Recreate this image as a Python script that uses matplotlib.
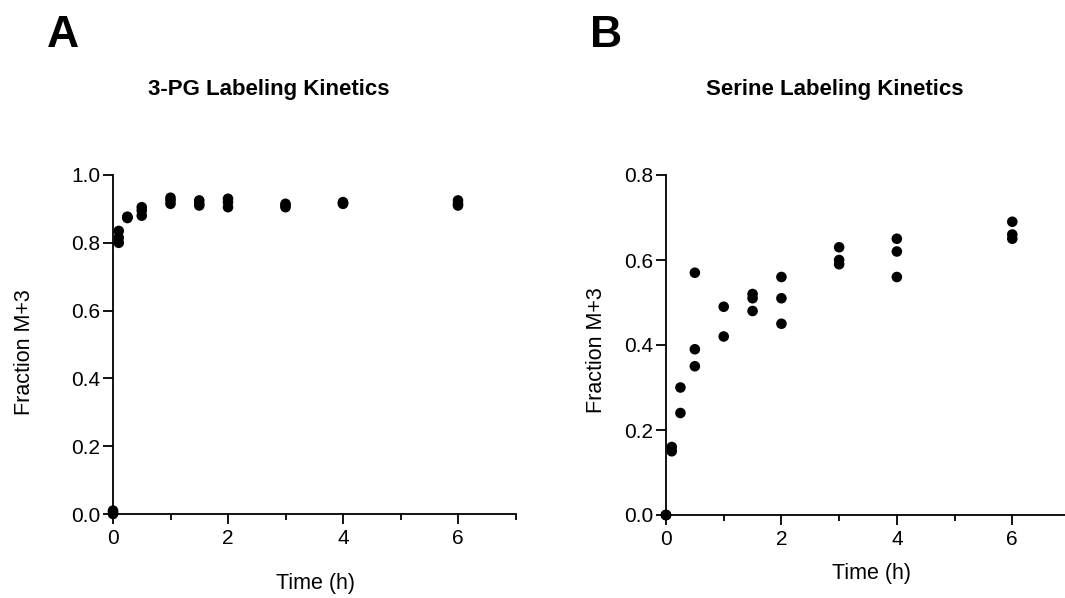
import matplotlib
matplotlib.use("Agg")
import matplotlib.pyplot as plt
from matplotlib.ticker import MultipleLocator

plt.rcParams['font.family'] = ['Liberation Sans', 'DejaVu Sans']

# Panel A: 3-PG
time_a = [0, 0, 0, 0.1, 0.1, 0.1, 0.25, 0.25, 0.25, 0.5, 0.5, 0.5,
          1, 1, 1, 1.5, 1.5, 1.5, 2, 2, 2, 3, 3, 3, 4, 4, 4, 6, 6, 6]
frac_a = [0.0, 0.01, 0.005, 0.835, 0.815, 0.80, 0.875, 0.877, 0.873,
          0.905, 0.895, 0.88, 0.933, 0.925, 0.915, 0.925, 0.915, 0.91,
          0.93, 0.92, 0.905, 0.915, 0.91, 0.905, 0.92, 0.917, 0.915,
          0.925, 0.915, 0.91]

# Panel B: Serine
time_b = [0, 0, 0, 0.1, 0.1, 0.25, 0.25, 0.5, 0.5, 0.5, 1, 1,
          1.5, 1.5, 1.5, 2, 2, 2, 3, 3, 3, 4, 4, 4, 6, 6, 6]
frac_b = [0.0, 0.0, 0.0, 0.16, 0.15, 0.30, 0.24, 0.57, 0.39, 0.35, 0.49, 0.42,
          0.52, 0.51, 0.48, 0.56, 0.51, 0.45, 0.63, 0.60, 0.59, 0.65, 0.62, 0.56,
          0.69, 0.66, 0.65]

titles = ["3-PG Labeling Kinetics", "Serine Labeling Kinetics"]
letters = ["A", "B"]
yticks_a = [0.0, 0.2, 0.4, 0.6, 0.8, 1.0]
yticks_b = [0.0, 0.2, 0.4, 0.6, 0.8]
xticks = [0, 2, 4, 6]

W, H = 1065, 598
fig = plt.figure(figsize=(W / 100, H / 100), dpi=100)

def px(x, y):
    return x / W, 1 - y / H

axA = fig.add_axes([113 / W, 84 / H, 402.5 / W, 339 / H])
axB = fig.add_axes([666 / W, 83 / H, 404 / W, 340 / H])

for ax, t, f, yt in [(axA, time_a, frac_a, yticks_a), (axB, time_b, frac_b, yticks_b)]:
    ax.scatter(t, f, s=58, color='black', edgecolors='none', clip_on=False, zorder=3)
    ax.set_xlim(0, 7)
    ax.set_ylim(0, yt[-1])
    ax.set_xticks(xticks)
    ax.set_yticks(yt)
    ax.set_yticklabels([f"{v:.1f}" for v in yt])
    ax.xaxis.set_minor_locator(MultipleLocator(1))
    for s in ['top', 'right']:
        ax.spines[s].set_visible(False)
    for s in ['left', 'bottom']:
        ax.spines[s].set_linewidth(1.3)
    ax.tick_params(which='major', length=7, width=1.3, labelsize=15, pad=2)
    ax.tick_params(axis='x', which='major', pad=4)
    ax.tick_params(which='minor', length=4, width=1.3)

# Titles, labels
fig.text(*px(269, 89), titles[0], ha='center', va='center', fontsize=16, fontweight='bold')
fig.text(*px(835, 89), titles[1], ha='center', va='center', fontsize=16, fontweight='bold')
fig.text(*px(316, 584), "Time (h)", ha='center', va='center', fontsize=15.5)
fig.text(*px(872, 573), "Time (h)", ha='center', va='center', fontsize=15.5)
fig.text(*px(25, 352), "Fraction M+3", ha='center', va='center', rotation=90, fontsize=15.5)
fig.text(*px(596, 350), "Fraction M+3", ha='center', va='center', rotation=90, fontsize=15.5)
fig.text(*px(47, 47), letters[0], ha='left', va='baseline', fontsize=32, fontweight='bold')
fig.text(*px(590, 47), letters[1], ha='left', va='baseline', fontsize=32, fontweight='bold')

fig.savefig("out.png", dpi=100)
